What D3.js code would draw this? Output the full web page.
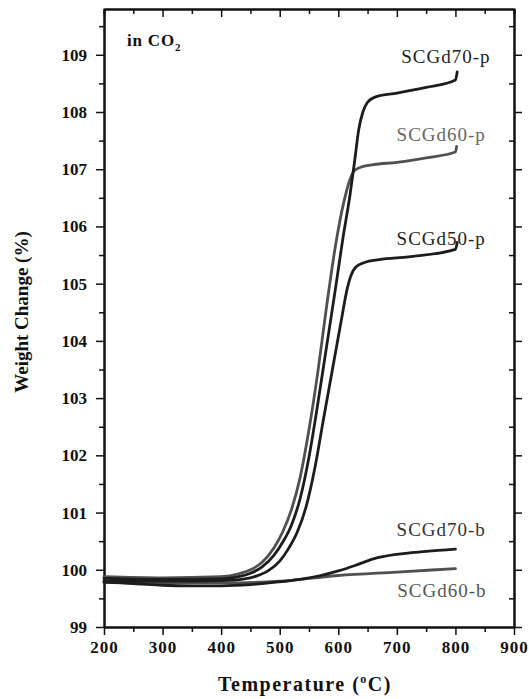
<!DOCTYPE html>
<html>
<head>
<meta charset="utf-8">
<script src="https://cdn.jsdelivr.net/npm/d3@7"></script>
<style>
  body { margin: 0; background: #fff; }
  svg text { font-family: "Liberation Serif", "DejaVu Serif", serif; }
  .tick text { font-weight: bold; font-size: 17px; fill: #111; }
</style>
</head>
<body>
<div id="chart"></div>
<script>
// Weight change (%) vs temperature
const t60p = [200, 300, 400, 430, 450, 470, 490, 505, 520, 535, 550, 565, 580, 595, 610, 620, 628, 640, 660, 700, 750, 800, 802];
const w60p = [99.88, 99.86, 99.88, 99.93, 100.0, 100.13, 100.38, 100.66, 101.05, 101.62, 102.45, 103.45, 104.6, 105.65, 106.45, 106.82, 106.98, 107.04, 107.08, 107.12, 107.2, 107.3, 107.4];

const t70p = [200, 300, 400, 430, 450, 470, 490, 505, 520, 535, 550, 565, 580, 595, 608, 620, 628, 635, 642, 650, 665, 700, 750, 800, 803];
const w70p = [99.85, 99.83, 99.84, 99.88, 99.94, 100.05, 100.25, 100.48, 100.78, 101.25, 101.97, 102.9, 103.9, 104.9, 105.8, 106.55, 107.15, 107.7, 108.0, 108.17, 108.27, 108.33, 108.43, 108.56, 108.7];

const t50p = [200, 300, 400, 440, 460, 480, 500, 515, 530, 545, 560, 575, 590, 605, 615, 622, 630, 645, 670, 720, 800, 803];
const w50p = [99.8, 99.8, 99.81, 99.84, 99.89, 99.98, 100.15, 100.37, 100.66, 101.1, 101.78, 102.65, 103.5, 104.35, 104.9, 105.15, 105.29, 105.37, 105.42, 105.47, 105.6, 105.72];

const t70b = [200, 250, 300, 350, 400, 450, 500, 540, 570, 600, 630, 660, 700, 750, 800];
const w70b = [99.78, 99.76, 99.73, 99.72, 99.72, 99.74, 99.79, 99.84, 99.9, 99.98, 100.08, 100.19, 100.27, 100.32, 100.36];

const t60b = [200, 300, 400, 500, 560, 600, 700, 800];
const w60b = [99.8, 99.77, 99.77, 99.8, 99.86, 99.9, 99.96, 100.02];

const xTicks = [200, 300, 400, 500, 600, 700, 800, 900];
const yTicks = [99, 100, 101, 102, 103, 104, 105, 106, 107, 108, 109];

const series = [
  { name: "SCGd60-b", t: t60b, w: w60b, color: "#505050" },
  { name: "SCGd70-b", t: t70b, w: w70b, color: "#1c1c1c" },
  { name: "SCGd50-p", t: t50p, w: w50p, color: "#1c1c1c" },
  { name: "SCGd60-p", t: t60p, w: w60p, color: "#505050" },
  { name: "SCGd70-p", t: t70p, w: w70p, color: "#1c1c1c" }
];

// label anchors (right end of text) in data units
const labels = [
  { text: "SCGd70-p", t: 860, w: 108.86, color: "#222" },
  { text: "SCGd60-p", t: 852, w: 107.5, color: "#666" },
  { text: "SCGd50-p", t: 852, w: 105.67, color: "#222" },
  { text: "SCGd70-b", t: 852, w: 100.59, color: "#333" },
  { text: "SCGd60-b", t: 853, w: 99.53, color: "#555" }
];

const W = 529, H = 699;
const margin = { top: 9, right: 15, bottom: 72, left: 104 };
const width = W - margin.left - margin.right;
const height = H - margin.top - margin.bottom;

const svg = d3.select("#chart").append("svg")
    .attr("width", W)
    .attr("height", H);

const g = svg.append("g")
    .attr("transform", `translate(${margin.left},${margin.top})`);

const x = d3.scaleLinear().domain([200, 900]).range([0, width]);
const y = d3.scaleLinear().domain([99, 109.8]).range([height, 0]);

const xMinor = d3.range(250, 900, 100);
const yMinor = d3.range(99.5, 109.8, 1);

// minor ticks first, then major axes
function minor(axis, vals) {
  return axis.tickValues(vals).tickSize(5).tickSizeOuter(0).tickFormat("");
}

g.append("g").attr("transform", `translate(0,${height})`)
    .call(minor(d3.axisBottom(x), xMinor));
g.append("g").call(minor(d3.axisTop(x), xMinor).tickSize(-5));
g.append("g").call(minor(d3.axisLeft(y), yMinor));
g.append("g").attr("transform", `translate(${width},0)`)
    .call(minor(d3.axisLeft(y), yMinor));

const xAxis = g.append("g").attr("transform", `translate(0,${height})`)
    .call(d3.axisBottom(x).tickValues(xTicks).tickSize(8).tickPadding(6).tickSizeOuter(0));
xAxis.selectAll(".tick text").attr("letter-spacing", "1px");

g.append("g")
    .call(d3.axisTop(x).tickValues(xTicks).tickSize(-8).tickSizeOuter(0).tickFormat(""));

g.append("g")
    .call(d3.axisLeft(y).tickValues(yTicks).tickSize(8).tickPadding(9).tickSizeOuter(0));

g.append("g").attr("transform", `translate(${width},0)`)
    .call(d3.axisLeft(y).tickValues(yTicks).tickSize(-8).tickSizeOuter(0).tickFormat(""));

g.selectAll(".domain").attr("stroke", "#111").attr("stroke-width", 2);
g.selectAll(".tick line").attr("stroke", "#111").attr("stroke-width", 1.5);

// curves
const line = d3.line()
    .x(d => x(d[0]))
    .y(d => y(d[1]))
    .curve(d3.curveMonotoneX);

g.selectAll("path.curve")
  .data(series)
  .enter().append("path")
    .attr("class", "curve")
    .attr("fill", "none")
    .attr("stroke", d => d.color)
    .attr("stroke-width", 2.8)
    .attr("stroke-linecap", "round")
    .attr("d", d => line(d.t.map((t, i) => [t, d.w[i]])));

// curve labels
g.selectAll("text.lbl")
  .data(labels)
  .enter().append("text")
    .attr("class", "lbl")
    .attr("x", d => x(d.t))
    .attr("y", d => y(d.w))
    .attr("text-anchor", "end")
    .attr("font-size", 19)
    .attr("letter-spacing", "1px")
    .attr("fill", d => d.color)
    .text(d => d.text);

// "in CO2" note
const note = g.append("text")
    .attr("x", 23)
    .attr("y", 37)
    .attr("font-size", 17)
    .attr("font-weight", "bold")
    .attr("letter-spacing", "0.8px")
    .attr("fill", "#111");
note.append("tspan").text("in CO");
note.append("tspan").attr("font-size", 11).attr("dy", 5).text("2");

// axis titles
const xt = svg.append("text")
    .attr("x", margin.left + width / 2 - 4)
    .attr("y", 691)
    .attr("text-anchor", "middle")
    .attr("font-size", 20)
    .attr("font-weight", "bold")
    .attr("letter-spacing", "1.5px")
    .attr("fill", "#111");
xt.append("tspan").text("Temperature (");
xt.append("tspan").attr("font-size", 12).attr("dy", -8).text("o");
xt.append("tspan").attr("dy", 8).text("C)");

svg.append("text")
    .attr("transform", `translate(28,${margin.top + height / 2 - 6}) rotate(-90)`)
    .attr("text-anchor", "middle")
    .attr("font-size", 19)
    .attr("font-weight", "bold")
    .attr("fill", "#111")
    .text("Weight Change (%)");
</script>
</body>
</html>
